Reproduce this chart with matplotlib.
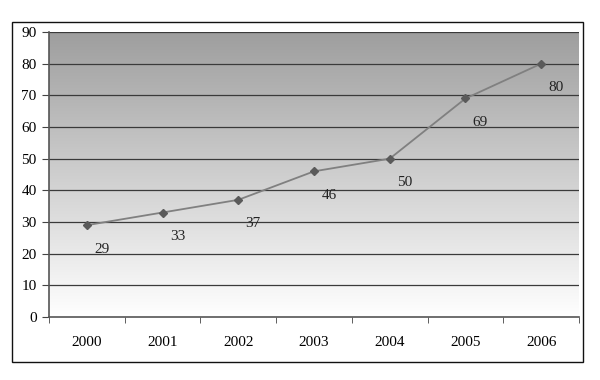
import numpy as np
import matplotlib.pyplot as plt
from matplotlib.patches import Rectangle

# values
years = ['2000', '2001', '2002', '2003', '2004', '2005', '2006']
values = [29, 33, 37, 46, 50, 69, 80]
yticks = [0, 10, 20, 30, 40, 50, 60, 70, 80, 90]

plt.rcParams['font.family'] = ['Liberation Serif', 'DejaVu Serif']

fig = plt.figure(figsize=(6, 3.8), dpi=100)
ax = fig.add_axes([49 / 600, 63 / 380, 530 / 600, 285 / 380])

x = np.arange(len(years))
ax.set_xlim(-0.5, len(years) - 0.5)
ax.set_ylim(0, 90)

# grey-to-white background gradient (top row first)
shade = np.linspace(0.62, 1.0, 256)
grad = np.repeat(shade[:, None, None], 3, axis=2)
ax.imshow(grad, aspect='auto', extent=(-0.5, len(years) - 0.5, 0, 90),
          zorder=0, origin='upper', interpolation='bilinear')

for v in yticks[1:]:
    ax.axhline(v, color='#3a3a3a', lw=0.9, zorder=1)

ax.plot(x, values, color='#808080', lw=1.3, zorder=3,
        marker='D', markersize=4.5, markerfacecolor='#5a5a5a', markeredgecolor='#5a5a5a')

for xi, v in zip(x, values):
    ax.annotate(str(v), (xi, v), xytext=(15, -24), textcoords='offset pixels',
                ha='center', va='center', fontsize=11, color='#222222', zorder=4)

ax.set_yticks(yticks)
ax.set_xticks(x)
ax.set_xticklabels(years)
ax.set_xticks(np.arange(-0.5, len(years), 1), minor=True)
ax.tick_params(axis='x', which='major', length=0, pad=14, labelsize=11)
ax.tick_params(axis='x', which='minor', length=4, direction='out', color='#444444')
ax.tick_params(axis='y', length=5, direction='out', color='#444444', labelsize=11, pad=4)

for s in ['top', 'right']:
    ax.spines[s].set_visible(False)
for s in ['left', 'bottom']:
    ax.spines[s].set_color('#555555')
    ax.spines[s].set_linewidth(1.2)

# outer chart border
fig.patches.append(Rectangle((12 / 600, 18 / 380), 571 / 600, 340 / 380,
                             transform=fig.transFigure, fill=False,
                             edgecolor='#111111', lw=1.0))

fig.savefig('out.png', dpi=100)
